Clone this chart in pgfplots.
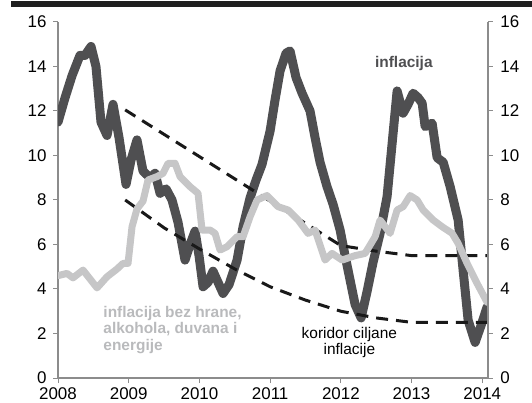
\documentclass[border=0pt]{standalone}
\usepackage{fontspec}
\setmainfont{Liberation Sans}
\usepackage{pgfplots}
\pgfplotsset{compat=1.18}
\definecolor{infl}{HTML}{4F4F51}
\definecolor{core}{HTML}{C6C6C7}
\definecolor{corelbl}{HTML}{B9BABC}
\definecolor{axgray}{HTML}{8C8C8C}
\begin{document}
\begin{tikzpicture}
\useasboundingbox (-58bp,-25bp) rectangle (474bp,378bp);
\fill[black!88] (-47bp,371bp) rectangle (474bp,377bp);
\pgfplotsset{common/.style={scale only axis, width=430bp, height=356bp,
  xmin=2008, xmax=2014.08, ymin=0, ymax=16, ytick={0,2,...,16},
  tick align=outside, major tick length=5bp,
  axis line style={axgray, line width=1.3bp}, tick style={axgray, line width=1bp},
  ticklabel style={font=\fontsize{17}{20}\selectfont, text=black},
  /pgf/number format/assume math mode=true, /pgf/number format/1000 sep={}}}
\begin{axis}[common, axis x line*=bottom, axis y line*=left, xtick={2008,...,2014},
  xticklabel style={yshift=-1.5bp}, yticklabel style={xshift=-3bp}]
\addplot[infl, line width=9bp, line join=round, line cap=round] coordinates {
(2008.000,11.5)(2008.10,12.6)(2008.20,13.6)(2008.311,14.5)(2008.382,14.5)(2008.467,14.9)(2008.537,14.0)(2008.608,11.5)(2008.693,10.9)(2008.778,12.3)(2008.863,10.8)(2008.962,8.7)(2009.033,9.8)(2009.117,10.7)(2009.202,9.3)(2009.301,9.0)(2009.372,9.2)(2009.443,8.3)(2009.528,8.5)(2009.612,8.0)(2009.697,7.0)(2009.796,5.3)(2009.867,6.0)(2009.938,6.6)(2009.994,5.5)(2010.051,4.1)(2010.122,4.3)(2010.192,4.8)(2010.263,4.3)(2010.334,3.8)(2010.419,4.2)(2010.532,5.3)(2010.617,6.8)(2010.716,8.1)(2010.801,8.9)(2010.885,9.6)(2010.999,11.1)(2011.069,12.5)(2011.140,13.8)(2011.225,14.6)(2011.281,14.7)(2011.366,13.5)(2011.451,12.8)(2011.564,12.0)(2011.635,10.8)(2011.705,9.7)(2011.804,8.6)(2011.890,7.8)(2011.989,6.65)(2012.059,5.5)(2012.130,4.4)(2012.201,3.3)(2012.286,2.7)(2012.371,3.9)(2012.455,5.2)(2012.554,6.5)(2012.653,8.15)(2012.738,11.0)(2012.795,12.9)(2012.880,11.9)(2012.950,12.3)(2013.021,12.8)(2013.092,12.6)(2013.149,12.35)(2013.191,11.3)(2013.290,11.45)(2013.361,9.9)(2013.446,9.7)(2013.545,8.6)(2013.658,7.1)(2013.728,4.85)(2013.799,2.6)(2013.898,1.6)(2013.997,2.5)(2014.068,3.2)};
\addplot[black!90, line width=3bp, dash pattern=on 12bp off 8bp] coordinates {
(2008.95,12.05)(2012.0,5.95)(2012.5,5.7)(2013.0,5.5)(2014.07,5.5)};
\addplot[black!90, line width=3bp, dash pattern=on 12bp off 8bp] coordinates {
(2008.95,8.0)(2009.5,6.75)(2010.0,5.8)(2010.5,4.9)(2011.0,4.1)(2011.5,3.5)(2012.0,3.0)(2012.5,2.7)(2013.0,2.5)(2014.07,2.5)};
\addplot[core, line width=7bp, line join=round, line cap=round] coordinates {
(2008.000,4.6)(2008.127,4.7)(2008.212,4.5)(2008.354,4.85)(2008.552,4.05)(2008.693,4.55)(2008.835,4.9)(2008.919,5.15)(2008.990,5.15)(2009.047,6.8)(2009.117,7.6)(2009.202,7.95)(2009.273,8.9)(2009.400,9.05)(2009.485,9.2)(2009.556,9.65)(2009.655,9.65)(2009.726,9.05)(2009.867,8.6)(2009.980,8.3)(2010.037,6.65)(2010.150,6.65)(2010.221,6.5)(2010.291,5.75)(2010.390,5.9)(2010.532,6.35)(2010.617,6.35)(2010.716,7.25)(2010.815,8.0)(2010.956,8.2)(2011.112,7.7)(2011.253,7.55)(2011.395,7.1)(2011.536,6.5)(2011.635,6.65)(2011.776,5.3)(2011.875,5.6)(2012.017,5.3)(2012.201,5.5)(2012.342,5.6)(2012.484,6.35)(2012.554,7.1)(2012.696,6.5)(2012.795,7.55)(2012.880,7.7)(2012.979,8.2)(2013.078,8.0)(2013.163,7.55)(2013.304,7.1)(2013.431,6.8)(2013.573,6.5)(2013.658,6.05)(2013.785,5.15)(2013.926,4.25)(2014.068,3.4)};
\node[anchor=north, inner sep=0pt, text=infl, font=\fontsize{15.5}{18}\selectfont\bfseries] at (axis cs:2012.89,14.47) {inflacija};
\node[anchor=north west, inner sep=0pt, align=left, text=corelbl, font=\fontsize{15.5}{16.5}\selectfont\bfseries] at (axis cs:2008.64,3.24) {inflacija bez hrane,\\alkohola, duvana i\\energije};
\node[anchor=north, inner sep=0pt, align=center, text=black, font=\fontsize{15.5}{16.5}\selectfont] at (axis cs:2012.12,2.29) {koridor ciljane\\inflacije};
\end{axis}
\begin{axis}[common, axis x line=none, axis y line*=right, yticklabel style={xshift=4bp}]
\end{axis}
\end{tikzpicture}
\end{document}
